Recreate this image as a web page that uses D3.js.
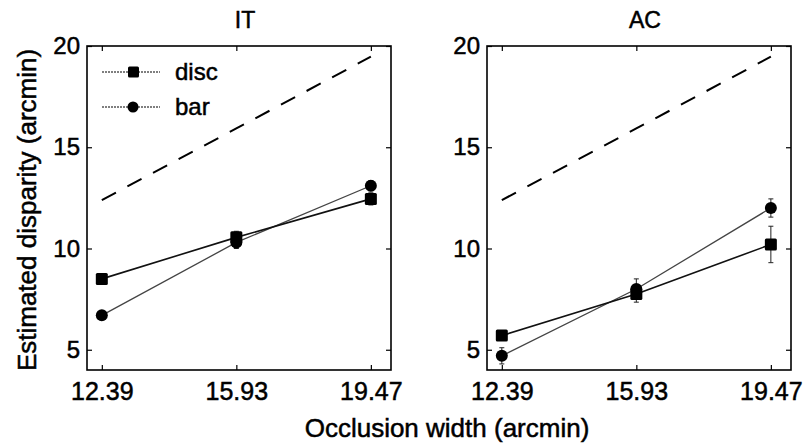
<!DOCTYPE html>
<html><head><meta charset="utf-8">
<script src="https://cdn.jsdelivr.net/npm/d3@7"></script>
<style>body{margin:0;background:#fff}svg text{font-family:"Liberation Sans",Arial,sans-serif;fill:#000;stroke:#000;stroke-width:0.5px}</style>
</head><body>
<svg id="c" width="807" height="443"></svg>
<script>
const xTicks = [12.39, 15.93, 19.47];
const yTicks = [5, 10, 15, 20];
const panels = ["IT", "AC"];
const seriesNames = ["disc", "bar"];
const itDisc = [8.5, 10.55, 12.45];
const itDiscErr = [0.25, 0.3, 0.3];
const itBar = [6.7, 10.3, 13.1];
const itBarErr = [0.2, 0.3, 0.25];
const acDisc = [5.7, 7.75, 10.2];
const acDiscErr = [0.2, 0.4, 0.9];
const acBar = [4.7, 8.0, 12.0];
const acBarErr = [0.4, 0.5, 0.45];
const identity = [12.39, 15.93, 19.47];

const data = {
  IT: {disc: itDisc, discErr: itDiscErr, bar: itBar, barErr: itBarErr},
  AC: {disc: acDisc, discErr: acDiscErr, bar: acBar, barErr: acBarErr}
};

const svg = d3.select("#c");
const lefts = [87, 487];
const W = 304, plotTop = 46, H = 324;

panels.forEach((p, i) => {
  const g = svg.append("g").attr("transform", `translate(${lefts[i]},${plotTop})`);
  const x = d3.scaleLinear().domain([12, 20]).range([0, W]);
  const y = d3.scaleLinear().domain([4, 20]).range([H, 0]);

  const ax = g.append("g").attr("transform", `translate(0,${H})`)
    .call(d3.axisBottom(x).tickValues(xTicks).tickFormat(d3.format(".2f")).tickSizeInner(-5).tickSizeOuter(0).tickPadding(12));
  const ay = g.append("g")
    .call(d3.axisLeft(y).tickValues(yTicks).tickSizeInner(-5).tickSizeOuter(0).tickPadding(7));
  const axT = g.append("g").call(d3.axisTop(x).tickValues(xTicks).tickFormat("").tickSizeInner(-5).tickSizeOuter(0));
  const ayR = g.append("g").attr("transform", `translate(${W},0)`).call(d3.axisRight(y).tickValues(yTicks).tickFormat("").tickSizeInner(-5).tickSizeOuter(0));
  [ax, ay, axT, ayR].forEach(a => {
    a.select(".domain").remove();
    a.selectAll(".tick line").attr("stroke", "#000").attr("stroke-width", 1.2);
    a.selectAll("text").attr("font-size", 24).attr("fill", "#000");
  });
  ax.selectAll("text").attr("font-size", 25);
  g.append("rect").attr("width", W).attr("height", H).attr("fill", "none").attr("stroke", "#000").attr("stroke-width", 1.6);

  g.append("text").attr("x", W / 2 + 6).attr("y", -18).attr("text-anchor", "middle").attr("font-size", 23).text(p);

  g.append("path").datum(identity)
    .attr("d", d3.line().x((d, k) => x(xTicks[k])).y(d => y(d)))
    .attr("fill", "none").attr("stroke", "#000").attr("stroke-width", 2).attr("stroke-dasharray", "16,13");

  const line = d3.line().x((d, k) => x(xTicks[k])).y(d => y(d));
  const d = data[p];
  g.append("path").datum(d.bar).attr("d", line).attr("fill", "none").attr("stroke", "#444").attr("stroke-width", 1.3);
  g.append("path").datum(d.disc).attr("d", line).attr("fill", "none").attr("stroke", "#111").attr("stroke-width", 1.6);

  ["disc", "bar"].forEach(s => {
    const v = d[s], e = d[s + "Err"];
    v.forEach((val, k) => {
      const cx = x(xTicks[k]);
      g.append("line").attr("x1", cx).attr("x2", cx).attr("y1", y(val - e[k])).attr("y2", y(val + e[k])).attr("stroke", "#222").attr("stroke-width", 1);
      [val - e[k], val + e[k]].forEach(yy => g.append("line").attr("x1", cx - 2.5).attr("x2", cx + 2.5).attr("y1", y(yy)).attr("y2", y(yy)).attr("stroke", "#222").attr("stroke-width", 1));
    });
  });
  g.selectAll(".sq").data(d.disc).enter().append("rect")
    .attr("x", (v, k) => x(xTicks[k]) - 6).attr("y", v => y(v) - 6).attr("width", 12).attr("height", 12).attr("rx", 1.5).attr("fill", "#000");
  g.selectAll(".ci").data(d.bar).enter().append("circle")
    .attr("cx", (v, k) => x(xTicks[k])).attr("cy", v => y(v)).attr("r", 6).attr("fill", "#000");

  if (i === 0) {
    const lg = g.append("g");
    const ly = [26, 61];
    seriesNames.forEach((s, k) => {
      lg.append("line").attr("x1", 15).attr("x2", 73).attr("y1", ly[k]).attr("y2", ly[k]).attr("stroke", "#555").attr("stroke-width", 1.3).attr("stroke-dasharray", "2,1");
      if (k === 0) lg.append("rect").attr("x", 41).attr("y", ly[k] - 5.5).attr("width", 11).attr("height", 11).attr("rx", 1.5).attr("fill", "#000");
      else lg.append("circle").attr("cx", 46).attr("cy", ly[k]).attr("r", 5.5).attr("fill", "#000");
      lg.append("text").attr("x", 88).attr("y", ly[k] + 8).attr("font-size", 24).text(s);
    });
  }
});

svg.append("text").attr("transform", "translate(36,210) rotate(-90)").attr("text-anchor", "middle").attr("font-size", 26).text("Estimated disparity (arcmin)");
svg.append("text").attr("x", 447).attr("y", 437).attr("text-anchor", "middle").attr("font-size", 26).text("Occlusion width (arcmin)");
</script>
</body></html>
